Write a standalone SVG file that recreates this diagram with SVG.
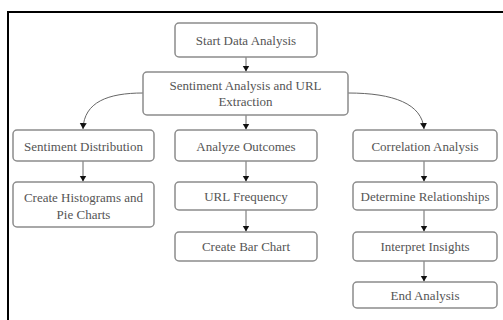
<svg xmlns="http://www.w3.org/2000/svg" width="503" height="320" viewBox="0 0 503 320">
<defs>
<style>
.box{fill:#fff;stroke:#8c8c8c;stroke-width:1.5}
.t{font-family:"Liberation Serif","Times New Roman",serif;font-size:13px;fill:#555;text-anchor:middle}
.e{fill:none;stroke:#666;stroke-width:1}
</style>
<marker id="ah" markerUnits="userSpaceOnUse" markerWidth="8" markerHeight="8" refX="6" refY="3.5" orient="auto">
<path d="M0,0 L6,3.5 L0,7 Z" fill="#111"/>
</marker>
</defs>
<rect x="0" y="0" width="503" height="320" fill="#fff"/>
<path d="M8,320 V12 H503" fill="none" stroke="#000" stroke-width="2"/>
<g id="connectors">
<path class="e" d="M246,57 V71.5" marker-end="url(#ah)"/>
<path class="e" d="M143,93 C108,93 84,102 83,129" marker-end="url(#ah)"/>
<path class="e" d="M246,115 V129.5" marker-end="url(#ah)"/>
<path class="e" d="M348,93 C394,93 422,104 424,129" marker-end="url(#ah)"/>
<path class="e" d="M83,161 V181.5" marker-end="url(#ah)"/>
<path class="e" d="M246,161 V181.5" marker-end="url(#ah)"/>
<path class="e" d="M424,161 V181.5" marker-end="url(#ah)"/>
<path class="e" d="M246,210 V231.5" marker-end="url(#ah)"/>
<path class="e" d="M424,210 V231.5" marker-end="url(#ah)"/>
<path class="e" d="M424,261 V281.5" marker-end="url(#ah)"/>
</g>
<g id="start"><rect class="box" x="175" y="23" width="142" height="34" rx="4"/><text class="t" x="246" y="44.5">Start Data Analysis</text></g>
<g id="sentiment"><rect class="box" x="143" y="72" width="205" height="43" rx="4"/><text class="t" x="245.5" y="89.5">Sentiment Analysis and URL</text><text class="t" x="245.5" y="106">Extraction</text></g>
<g id="distribution"><rect class="box" x="13" y="130" width="141" height="31" rx="4"/><text class="t" x="83.5" y="150.5">Sentiment Distribution</text></g>
<g id="outcomes"><rect class="box" x="175" y="130" width="142" height="31" rx="4"/><text class="t" x="246" y="150.5">Analyze Outcomes</text></g>
<g id="correlation"><rect class="box" x="353" y="130" width="144" height="31" rx="4"/><text class="t" x="425" y="150.5">Correlation Analysis</text></g>
<g id="histograms"><rect class="box" x="13" y="182" width="141" height="45" rx="4"/><text class="t" x="83.5" y="202">Create Histograms and</text><text class="t" x="83.5" y="219">Pie Charts</text></g>
<g id="urlfreq"><rect class="box" x="175" y="182" width="142" height="28" rx="4"/><text class="t" x="246" y="200.5">URL Frequency</text></g>
<g id="relationships"><rect class="box" x="353" y="182" width="144" height="28" rx="4"/><text class="t" x="425" y="200.5">Determine Relationships</text></g>
<g id="barchart"><rect class="box" x="175" y="232" width="142" height="29" rx="4"/><text class="t" x="246" y="251">Create Bar Chart</text></g>
<g id="insights"><rect class="box" x="353" y="232" width="144" height="29" rx="4"/><text class="t" x="425" y="251">Interpret Insights</text></g>
<g id="end"><rect class="box" x="353" y="282" width="144" height="26" rx="4"/><text class="t" x="425" y="299.5">End Analysis</text></g>
</svg>
